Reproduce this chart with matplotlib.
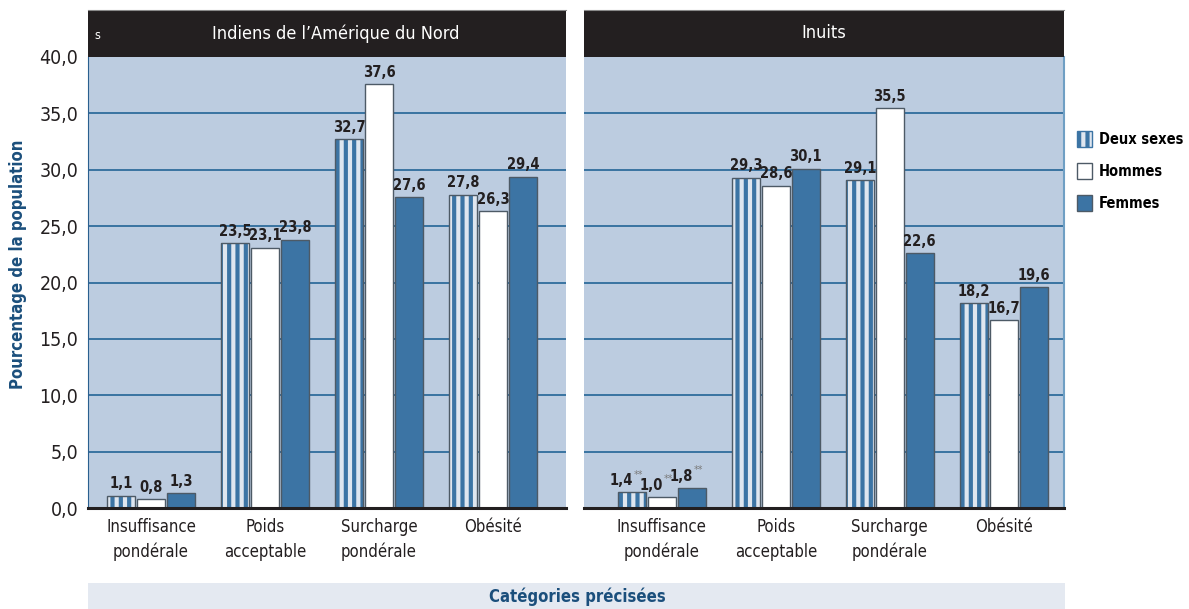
import matplotlib
matplotlib.use("Agg")
import matplotlib.pyplot as plt
from matplotlib.patches import Patch, Rectangle
import numpy as np

plt.rcParams['font.family'] = ['DejaVu Sans']
plt.rcParams['font.stretch'] = 'condensed'
plt.rcParams['hatch.linewidth'] = 3.0

# data
categories = ["Insuffisance\npondérale", "Poids\nacceptable", "Surcharge\npondérale", "Obésité"]
series_names = ["Deux sexes", "Hommes", "Femmes"]
panel_titles = ["Indiens de l\u2019Amérique du Nord", "Inuits"]
indiens_deux = [1.1, 23.5, 32.7, 27.8]
indiens_hommes = [0.8, 23.1, 37.6, 26.3]
indiens_femmes = [1.3, 23.8, 27.6, 29.4]
inuits_deux = [1.4, 29.3, 29.1, 18.2]
inuits_hommes = [1.0, 28.6, 35.5, 16.7]
inuits_femmes = [1.8, 30.1, 22.6, 19.6]
inuits_flags = [["**", "", "", ""], ["**", "", "", ""], ["**", "", "", ""]]
y_ticks = [0, 5, 10, 15, 20, 25, 30, 35, 40]

BG = '#bccce0'
GRID = '#2f6c9c'
BLUE = '#3c74a4'
LIGHT = '#dfe6ef'
EDGE = '#4d5a66'
DARK = '#231f20'
NAVY = '#1b4f7c'

W, H = 1189, 609
fig = plt.figure(figsize=(W / 100, H / 100), dpi=100)


def px_axes(x0, y0, x1, y1):
    return fig.add_axes([x0 / W, (H - y1) / H, (x1 - x0) / W, (y1 - y0) / H])


def fmt(v):
    return f"{v:.1f}".replace('.', ',')


def draw_panel(ax, deux, hommes, femmes, flags, xlim):
    ax.set_facecolor(BG)
    ax.set_xlim(*xlim)
    ax.set_ylim(0, 40)
    ax.set_axisbelow(True)
    for y in y_ticks[1:-1]:
        ax.axhline(y, color=GRID, lw=1.3, zorder=0)
    x = np.arange(len(categories))
    step = 0.263
    width = 0.245
    groups = [deux, hommes, femmes]
    for i, vals in enumerate(groups):
        xs = x + (i - 1) * step
        if i == 0:
            ax.bar(xs, vals, width, color=LIGHT, edgecolor=BLUE, hatch='||', lw=0, zorder=2)
            ax.bar(xs, vals, width, fill=False, edgecolor=EDGE, lw=1, zorder=3)
        elif i == 1:
            ax.bar(xs, vals, width, color='white', edgecolor=EDGE, lw=1, zorder=3)
        else:
            ax.bar(xs, vals, width, color=BLUE, edgecolor=EDGE, lw=1, zorder=3)
        for j, (xx, v) in enumerate(zip(xs, vals)):
            flag = flags[i][j] if flags else ""
            if flag:
                ax.annotate(fmt(v), (xx, v), xytext=(1, 3), textcoords='offset points',
                            ha='right', va='bottom', fontsize=10.5, fontweight='bold', color=DARK)
                ax.annotate(flag, (xx, v), xytext=(1, 9), textcoords='offset points',
                            ha='left', va='bottom', fontsize=7.5, color='#7a7a7a')
            else:
                ax.annotate(fmt(v), (xx, v), xytext=(0, 3), textcoords='offset points',
                            ha='center', va='bottom', fontsize=10.5, fontweight='bold', color=DARK)
    ax.set_xticks(x)
    ax.set_xticklabels(categories, fontsize=12, color=DARK, linespacing=1.5)
    ax.tick_params(axis='x', length=0, pad=7)
    ax.tick_params(axis='y', length=0)
    for s in ['top', 'right', 'left']:
        ax.spines[s].set_visible(False)
    ax.spines['bottom'].set_color(DARK)
    ax.spines['bottom'].set_linewidth(2.2)
    ax.spines['bottom'].set_zorder(5)


ax1 = px_axes(88, 57, 566, 508)
draw_panel(ax1, indiens_deux, indiens_hommes, indiens_femmes, None, (-0.553, 3.64))
ax1.set_yticks(y_ticks)
ax1.set_yticklabels([fmt(v) for v in y_ticks], fontsize=14, color=DARK)
ax1.tick_params(axis='y', pad=7)
ax1.spines['left'].set_visible(True)
ax1.spines['left'].set_color('#2a5f8f')
ax1.set_ylabel("Pourcentage de la population", fontsize=12, fontweight='bold', color=NAVY)
ax1.yaxis.set_label_coords(-0.128, 0.54)

ax2 = px_axes(584, 57, 1064, 508)
draw_panel(ax2, inuits_deux, inuits_hommes, inuits_femmes, inuits_flags, (-0.684, 3.53))
ax2.set_yticks(y_ticks)
ax2.set_yticklabels([])
ax2.spines['right'].set_visible(True)
ax2.spines['right'].set_color('#6f9fc4')
ax2.spines['right'].set_linewidth(1.5)

# headers
for (x0, x1), title, tx in [((88, 566), panel_titles[0], 0.518), ((584, 1064), panel_titles[1], 0.5)]:
    hx = px_axes(x0, 10, x1, 57)
    hx.set_facecolor(DARK)
    hx.set_xticks([])
    hx.set_yticks([])
    for s in hx.spines.values():
        s.set_visible(False)
    hx.spines['top'].set_visible(True)
    hx.spines['top'].set_color('#8a8a8a')
    hx.text(tx, 0.5, title, color='white', fontsize=13, ha='center', va='center',
            transform=hx.transAxes)
    if x0 == 88:
        hx.text(0.02, 0.45, "s", color='white', fontsize=9, ha='center', va='center',
                transform=hx.transAxes)

# bottom band
fig.patches.append(Rectangle((88 / W, 0), (1065 - 88) / W, 26 / H, transform=fig.transFigure,
                             facecolor='#e4e9f1', edgecolor='none', zorder=0))
fig.text(577 / W, (H - 597) / H, "Catégories précisées", fontsize=12, fontweight='bold',
         color=NAVY, ha='center', va='center')

# legend
handles = [Patch(facecolor=LIGHT, edgecolor=BLUE, hatch='||', lw=1),
           Patch(facecolor='white', edgecolor=EDGE, lw=1),
           Patch(facecolor=BLUE, edgecolor=EDGE, lw=1)]
leg = fig.legend(handles, series_names, loc='upper left', bbox_to_anchor=(1064 / W, 1 - 118 / H),
                 frameon=False, handlelength=1.05, handleheight=1.3, handletextpad=0.45,
                 labelspacing=1.1, prop={'size': 10.5, 'weight': 'bold'})

fig.savefig("out.png", dpi=100)
